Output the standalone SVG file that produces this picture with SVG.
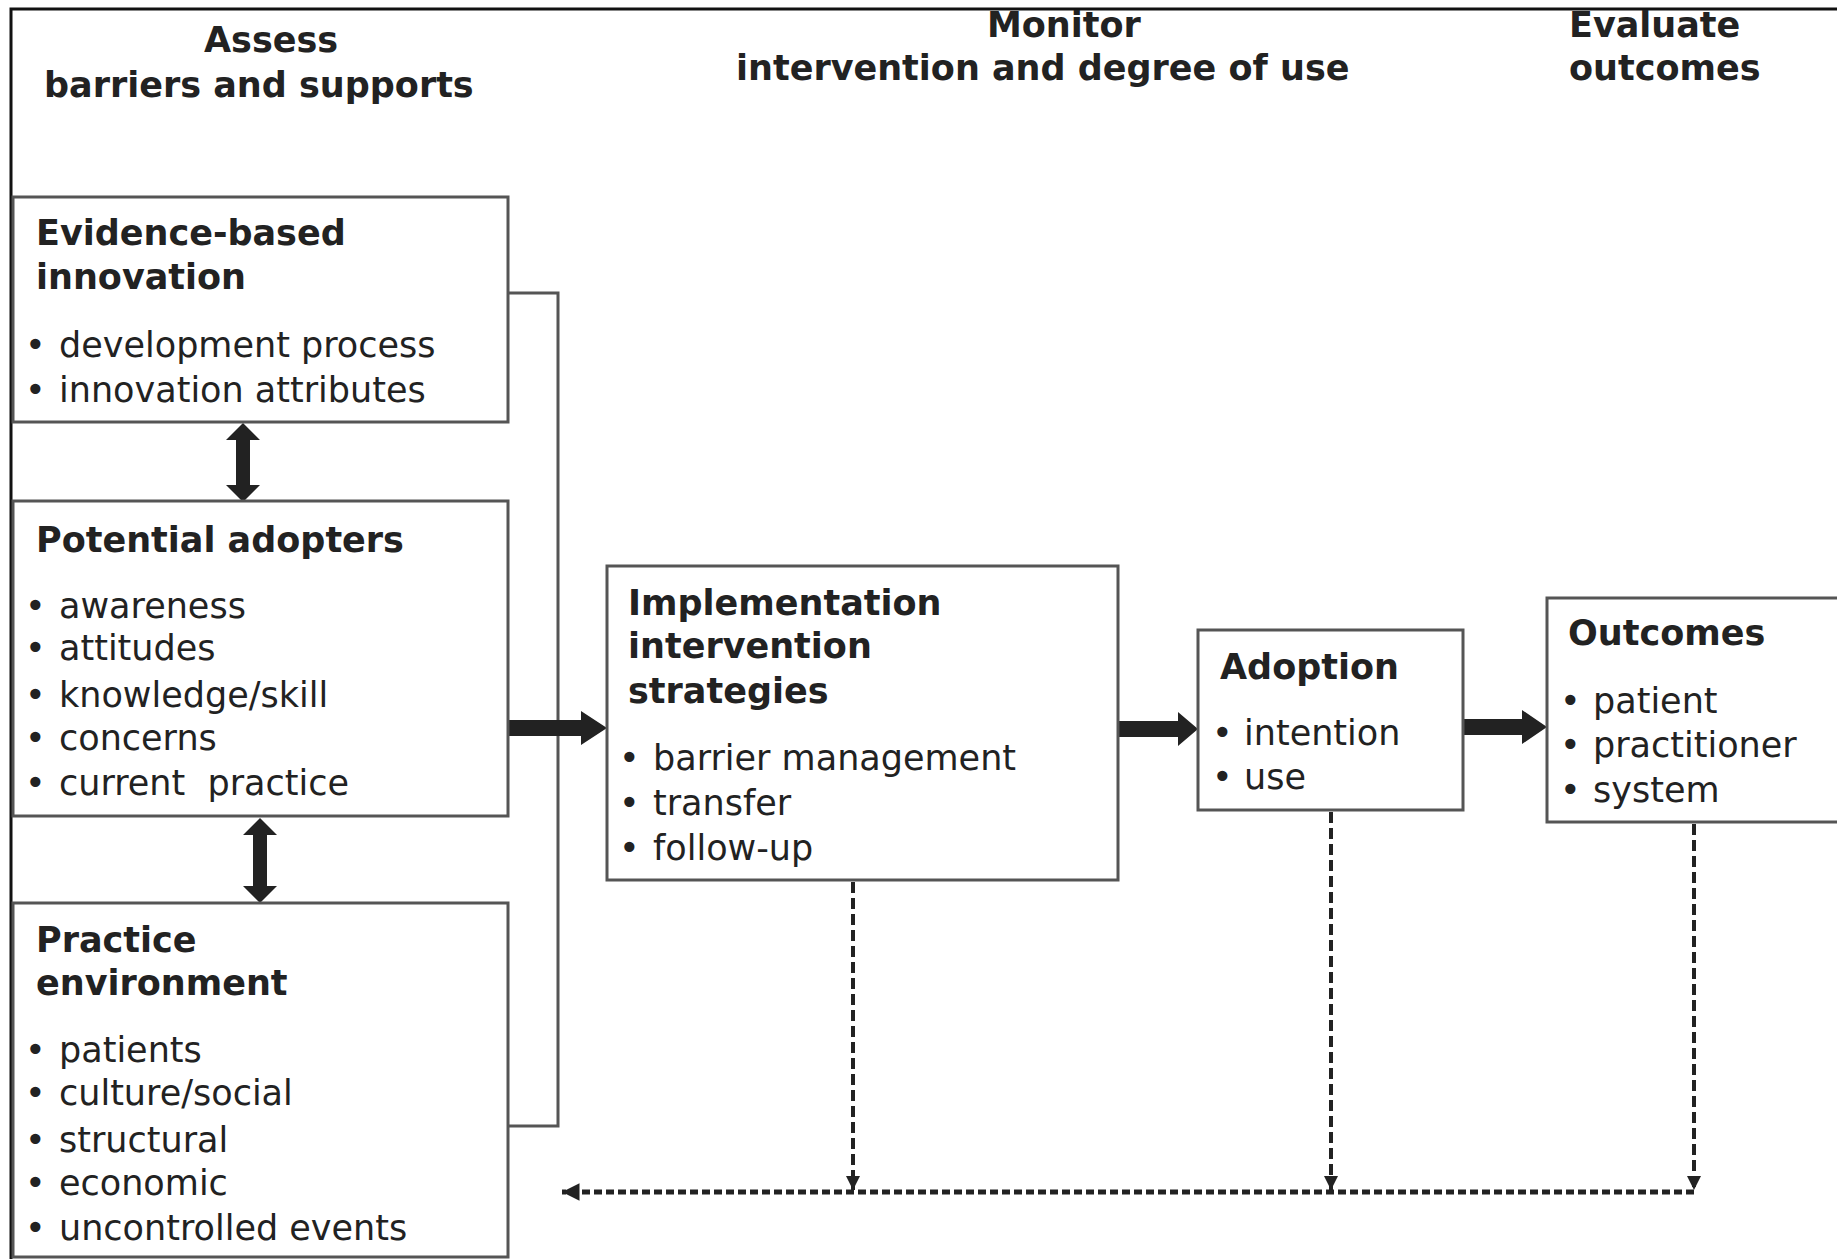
<svg xmlns="http://www.w3.org/2000/svg" width="1837" height="1259" viewBox="0 0 1837 1259">
<style>
.h{font-family:"DejaVu Sans",Verdana,sans-serif;font-weight:bold;font-size:35px;fill:#222}
.t{font-family:"DejaVu Sans",Verdana,sans-serif;font-size:35px;fill:#222;white-space:pre}
.box{fill:#fff;stroke:#555;stroke-width:3}
.frame{fill:none;stroke:#111;stroke-width:3}
.brk{fill:none;stroke:#555;stroke-width:3}
.dash{fill:none;stroke:#222;stroke-width:4;stroke-dasharray:11 5}
.dashh{fill:none;stroke:#222;stroke-width:5;stroke-dasharray:8 4}
.thick{fill:#222}
</style>
<defs>
<marker id="ah" viewBox="0 0 10 10" refX="10" refY="5" markerWidth="3.5" markerHeight="3.5" orient="auto" markerUnits="strokeWidth">
<path d="M0,0 L10,5 L0,10 z" fill="#222"/>
</marker>
</defs>
<rect width="1837" height="1259" fill="#fff"/>
<rect class="frame" x="11" y="9" width="2000" height="2000"/>

<g id="headers">
<text class="h" x="204" y="52">Assess</text>
<text class="h" x="44" y="97">barriers and supports</text>
<text class="h" x="987" y="37">Monitor</text>
<text class="h" x="736" y="80">intervention and degree of use</text>
<text class="h" x="1569" y="37">Evaluate</text>
<text class="h" x="1569" y="80">outcomes</text>
</g>

<g id="connectors">
<path class="brk" d="M508,293 H558 V1126 H508"/>
<polygon class="thick" points="243,423 260,440 250,440 250,485 260,485 243,502 226,485 236,485 236,440 226,440"/>
<polygon class="thick" points="260,818 277,835 267,835 267,886 277,886 260,903 243,886 253,886 253,835 243,835"/>
<polygon class="thick" points="508,720 581,720 581,711 607,728 581,745 581,736 508,736"/>
<polygon class="thick" points="1118,721 1178,721 1178,712 1198,729 1178,746 1178,737 1118,737"/>
<polygon class="thick" points="1463,719 1522,719 1522,710 1547,727 1522,744 1522,735 1463,735"/>
<path class="dash" d="M853,882 V1190" marker-end="url(#ah)"/>
<path class="dash" d="M1331,812 V1190" marker-end="url(#ah)"/>
<path class="dash" d="M1694,824 V1190" marker-end="url(#ah)"/>
<path class="dashh" d="M1694,1192 H562" marker-end="url(#ah)"/>
</g>

<g id="evidence">
<rect class="box" x="13" y="197" width="495" height="225"/>
<text class="h" x="36" y="245">Evidence-based</text>
<text class="h" x="36" y="289">innovation</text>
<text class="t" y="357"><tspan x="25">•</tspan><tspan x="59">development process</tspan></text>
<text class="t" y="402"><tspan x="25">•</tspan><tspan x="59">innovation attributes</tspan></text>
</g>

<g id="adopters">
<rect class="box" x="13" y="501" width="495" height="315"/>
<text class="h" x="36" y="552">Potential adopters</text>
<text class="t" y="618"><tspan x="25">•</tspan><tspan x="59">awareness</tspan></text>
<text class="t" y="660"><tspan x="25">•</tspan><tspan x="59">attitudes</tspan></text>
<text class="t" y="707"><tspan x="25">•</tspan><tspan x="59">knowledge/skill</tspan></text>
<text class="t" y="750"><tspan x="25">•</tspan><tspan x="59">concerns</tspan></text>
<text class="t" y="795"><tspan x="25">•</tspan><tspan x="59">current  practice</tspan></text>
</g>

<g id="practice">
<rect class="box" x="13" y="903" width="495" height="354"/>
<text class="h" x="36" y="952">Practice</text>
<text class="h" x="36" y="995">environment</text>
<text class="t" y="1062"><tspan x="25">•</tspan><tspan x="59">patients</tspan></text>
<text class="t" y="1105"><tspan x="25">•</tspan><tspan x="59">culture/social</tspan></text>
<text class="t" y="1152"><tspan x="25">•</tspan><tspan x="59">structural</tspan></text>
<text class="t" y="1195"><tspan x="25">•</tspan><tspan x="59">economic</tspan></text>
<text class="t" y="1240"><tspan x="25">•</tspan><tspan x="59">uncontrolled events</tspan></text>
</g>

<g id="implementation">
<rect class="box" x="607" y="566" width="511" height="314"/>
<text class="h" x="628" y="615">Implementation</text>
<text class="h" x="628" y="658">intervention</text>
<text class="h" x="628" y="703">strategies</text>
<text class="t" y="770"><tspan x="619">•</tspan><tspan x="653">barrier management</tspan></text>
<text class="t" y="815"><tspan x="619">•</tspan><tspan x="653">transfer</tspan></text>
<text class="t" y="860"><tspan x="619">•</tspan><tspan x="653">follow-up</tspan></text>
</g>

<g id="adoption">
<rect class="box" x="1198" y="630" width="265" height="180"/>
<text class="h" x="1220" y="679">Adoption</text>
<text class="t" y="745"><tspan x="1212">•</tspan><tspan x="1244">intention</tspan></text>
<text class="t" y="789"><tspan x="1212">•</tspan><tspan x="1244">use</tspan></text>
</g>

<g id="outcomes">
<rect class="box" x="1547" y="598" width="400" height="224"/>
<text class="h" x="1568" y="645">Outcomes</text>
<text class="t" y="713"><tspan x="1560">•</tspan><tspan x="1593">patient</tspan></text>
<text class="t" y="757"><tspan x="1560">•</tspan><tspan x="1593">practitioner</tspan></text>
<text class="t" y="802"><tspan x="1560">•</tspan><tspan x="1593">system</tspan></text>
</g>
</svg>
